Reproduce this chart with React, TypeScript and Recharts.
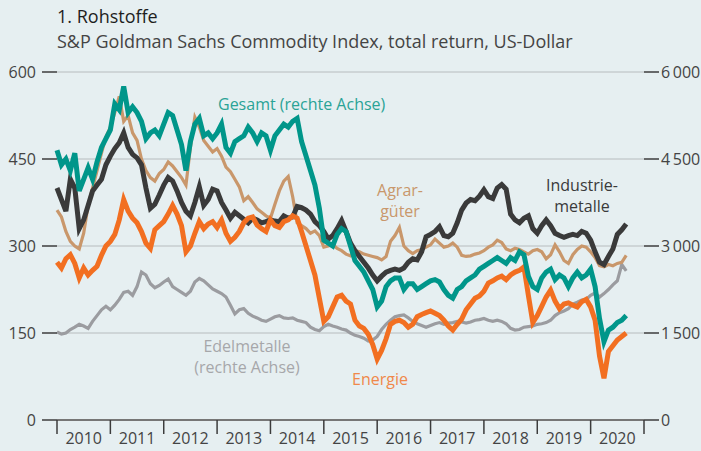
import React from "react";
import { CartesianGrid, Line, LineChart, XAxis, YAxis } from "recharts";

// monthly values, Jan 2010 .. Sep 2020
const startYear = 2010;

const gesamt = [
  4650, 4400, 4500, 4300, 4600, 3950, 4150, 4350, 4150, 4450, 4700, 4850,
  5000, 5450, 5350, 5750, 5300, 5400, 5300, 5150, 4850, 4950, 5000, 4900,
  5100, 5300, 5250, 5000, 4750, 4300, 4800, 5100, 5200, 4900, 4950, 4850,
  4950, 5100, 4700, 4600, 4800, 4850, 4900, 5050, 4950, 4800, 4950, 4900,
  4650, 4900, 5000, 5100, 5050, 5150, 5200, 4800, 4550, 4300, 4050, 3650,
  3100, 3050, 3000, 3200, 3300, 3250, 3000, 2750, 2650, 2550, 2400, 2250,
  1950, 2050, 2300, 2400, 2450, 2450, 2250, 2350, 2350, 2250, 2300, 2350,
  2400, 2420, 2380, 2250, 2150, 2100, 2250, 2300, 2400, 2450, 2500, 2600,
  2650, 2700, 2750, 2800, 2750, 2700, 2800, 2750, 2900, 2850, 2480, 2300,
  2250, 2450, 2550, 2600, 2420, 2500, 2450, 2300, 2450, 2550, 2450, 2500,
  2600, 2300, 1750, 1350, 1550, 1600, 1680, 1720, 1800,
];

const industriemetalle = [
  400, 380, 360, 415, 400, 330, 345, 370, 395, 405, 415, 440,
  455, 468, 478, 495, 470, 458, 452, 440, 400, 365, 372, 388,
  405, 418, 412, 395, 375, 360, 352, 375, 402, 370, 380, 398,
  395, 375, 362, 348, 358, 352, 346, 340, 348, 345, 340, 342,
  345, 343, 342, 352, 348, 350, 368, 366, 362, 355, 342, 335,
  325, 312, 318, 330, 344, 325, 305, 292, 282, 272, 262, 250,
  240, 248, 255, 258, 260, 258, 262, 272, 278, 276, 290, 316,
  320, 325, 333, 318, 316, 322, 340, 362, 374, 380, 378, 386,
  397, 385, 382, 400, 406, 398, 355, 345, 340, 348, 352, 330,
  322, 335, 345, 335, 322, 318, 315, 318, 320, 318, 325, 322,
  310, 290, 272, 268, 282, 295, 320, 328, 338,
];

const agrargueter = [
  362, 350, 325, 308, 300, 295, 322, 370, 400, 430, 460, 488,
  505, 530, 558, 515, 525, 495, 482, 450, 430, 418, 412, 425,
  432, 445, 438, 428, 418, 405, 470, 522, 505, 482, 472, 462,
  468, 455, 436, 428, 415, 402, 378, 385, 375, 364, 358, 352,
  348, 372, 395, 412, 420, 385, 340, 335, 330, 322, 326, 318,
  298, 300, 303, 296, 292, 286, 283, 292, 290, 286, 284, 282,
  280, 276, 282, 308, 318, 332, 300, 292, 287, 292, 294, 298,
  302, 312, 305, 298, 300, 305, 298, 284, 282, 283, 286, 288,
  292, 298, 302, 310, 306, 295, 292, 296, 294, 290, 286, 292,
  294, 290, 278, 285, 302, 290, 275, 270, 285, 294, 300, 298,
  290, 280, 266, 264, 268, 266, 270, 272, 284,
];

const energie = [
  272, 262, 278, 285, 270, 245, 262, 250, 258, 265, 284, 300,
  308, 320, 345, 380, 360, 348, 340, 325, 305, 296, 328, 335,
  342, 355, 370, 355, 335, 290, 300, 322, 342, 330, 338, 342,
  332, 345, 322, 308, 315, 325, 340, 348, 350, 336, 330, 325,
  345, 335, 332, 342, 345, 352, 348, 325, 300, 275, 250, 210,
  170, 178, 195, 212, 215, 205, 200, 172, 162, 158, 148, 130,
  105, 120, 140, 165, 170, 172, 168, 160, 165, 178, 182, 185,
  188, 184, 180, 172, 162, 155, 165, 174, 190, 200, 210, 214,
  222, 236, 240, 245, 248, 242, 250, 255, 258, 264, 215, 168,
  180, 196, 212, 224, 205, 192, 200, 202, 198, 195, 204, 208,
  195, 172, 110, 72, 118, 128, 138, 144, 150,
];

const edelmetalle = [
  1520, 1480, 1500, 1560, 1600, 1650, 1620, 1580, 1700, 1800, 1900, 1960,
  1900, 1980, 2080, 2200, 2220, 2150, 2300, 2550, 2500, 2350, 2280, 2320,
  2380, 2430, 2300, 2250, 2200, 2150, 2220, 2380, 2440, 2400, 2330, 2260,
  2220, 2180, 2120, 1980, 1830, 1900, 1920, 1840, 1790, 1760, 1720, 1700,
  1740, 1780, 1800, 1760, 1750, 1760, 1720, 1700, 1680, 1600, 1560, 1540,
  1610, 1650, 1620, 1600, 1570, 1550, 1500, 1460, 1440, 1410, 1360, 1380,
  1440, 1560, 1650, 1720, 1780, 1800, 1810, 1760, 1700, 1660, 1630, 1600,
  1630, 1660, 1680, 1650, 1670, 1680, 1700, 1690, 1670, 1690, 1720, 1730,
  1750, 1720, 1700, 1720, 1700, 1660, 1580, 1550, 1560, 1600, 1610, 1620,
  1650, 1660, 1680, 1720, 1800, 1850, 1880, 1920, 2000, 2030, 2070, 2080,
  2150, 2190, 2120, 2180, 2250, 2330, 2400, 2680, 2570,
];

const leftTicks = [0, 150, 300, 450, 600];
const rightTicks = [0, 1500, 3000, 4500, 6000];
const years = [2010, 2011, 2012, 2013, 2014, 2015, 2016, 2017, 2018, 2019, 2020, 2021];

const data = gesamt.map((g, i) => ({
  t: startYear + i / 12,
  gesamt: g,
  industriemetalle: industriemetalle[i],
  agrargueter: agrargueter[i],
  energie: energie[i],
  edelmetalle: edelmetalle[i],
}));

// year boundaries get a tick line, half years get the label
const xTicks = years.flatMap((y, i) => (i < years.length - 1 ? [y, y + 0.5] : [y]));

const FONT = "'Open Sans', 'Noto Sans', sans-serif";
const BG = "#e6eff1";

const fmtRight = (v: number) => (v === 0 ? "0" : `${Math.floor(v / 1000)}\u2009${String(v % 1000).padStart(3, "0")}`);

function YearTick(props: any) {
  const { x, y, payload } = props;
  const v = payload.value as number;
  if (Number.isInteger(v)) {
    return <line x1={x} x2={x} y1={y} y2={y + 14} stroke="#3c3c3c" strokeWidth={1.5} />;
  }
  return (
    <text x={x} y={y + 24} textAnchor="middle" fill="#444" fontSize={16} fontFamily={FONT}>
      {Math.floor(v)}
    </text>
  );
}

export default function App() {
  const tickStyle = { fill: "#444", fontSize: 16, fontFamily: FONT };
  return (
    <div style={{ position: "absolute", left: 0, top: 0, width: 701, height: 451, background: BG }}>
      <LineChart width={701} height={451} data={data} margin={{ top: 72, right: 0, bottom: 0, left: 0 }}>
        <CartesianGrid yAxisId="left" vertical={false} stroke="#b7bcbe" strokeWidth={1} />
        <XAxis
          dataKey="t"
          type="number"
          domain={[2010, 2021]}
          ticks={xTicks}
          interval={0}
          height={31}
          tickSize={0}
          tickMargin={0}
          tickLine={false}
          axisLine={{ stroke: "#767676", strokeWidth: 2 }}
          tick={<YearTick />}
        />
        <YAxis
          yAxisId="left"
          domain={[0, 600]}
          ticks={leftTicks}
          width={57}
          tickSize={15}
          tickMargin={6}
          axisLine={false}
          tickLine={{ stroke: "#3c3c3c", strokeWidth: 1.5 }}
          tick={tickStyle}
        />
        <YAxis
          yAxisId="right"
          orientation="right"
          domain={[0, 6000]}
          ticks={rightTicks}
          width={57}
          tickSize={15}
          tickMargin={2}
          axisLine={false}
          tickLine={{ stroke: "#3c3c3c", strokeWidth: 1.5 }}
          tick={tickStyle}
          tickFormatter={fmtRight}
        />
        <Line yAxisId="right" dataKey="edelmetalle" stroke="#9b9ca0" strokeWidth={3.2} dot={false} type="linear" isAnimationActive={false} />
        <Line yAxisId="left" dataKey="agrargueter" stroke="#c9976b" strokeWidth={3.2} dot={false} type="linear" isAnimationActive={false} />
        <Line yAxisId="left" dataKey="industriemetalle" stroke="#3a3a3a" strokeWidth={5} dot={false} type="linear" isAnimationActive={false} />
        <Line yAxisId="left" dataKey="energie" stroke="#f26f21" strokeWidth={5} dot={false} type="linear" isAnimationActive={false} />
        <Line yAxisId="right" dataKey="gesamt" stroke="#00968a" strokeWidth={5} dot={false} type="linear" isAnimationActive={false} />
      </LineChart>
      <svg width={701} height={451} style={{ position: "absolute", left: 0, top: 0, pointerEvents: "none" }} fontFamily={FONT}>
        <text x={57} y={23} fontSize={18} fontWeight={500} fill="#1e1e1e">1. Rohstoffe</text>
        <text x={57} y={48} fontSize={18} fill="#444">S&amp;P Goldman Sachs Commodity Index, total return, US-Dollar</text>
        <text x={218} y={110} fontSize={16} fill="#2aa396">Gesamt (rechte Achse)</text>
        <text x={400} y={196} fontSize={16} fill="#c9976b" textAnchor="middle">Agrar-</text>
        <text x={400} y={217} fontSize={16} fill="#c9976b" textAnchor="middle">güter</text>
        <text x={582} y={191} fontSize={16} fill="#3a3a3a" textAnchor="middle">Industrie-</text>
        <text x={582} y={212} fontSize={16} fill="#3a3a3a" textAnchor="middle">metalle</text>
        <text x={380} y={385} fontSize={16} fill="#f0884a" textAnchor="middle">Energie</text>
        <text x={247} y={352} fontSize={16} fill="#a6a7aa" textAnchor="middle">Edelmetalle</text>
        <text x={247} y={373} fontSize={16} fill="#a6a7aa" textAnchor="middle">(rechte Achse)</text>
      </svg>
    </div>
  );
}
